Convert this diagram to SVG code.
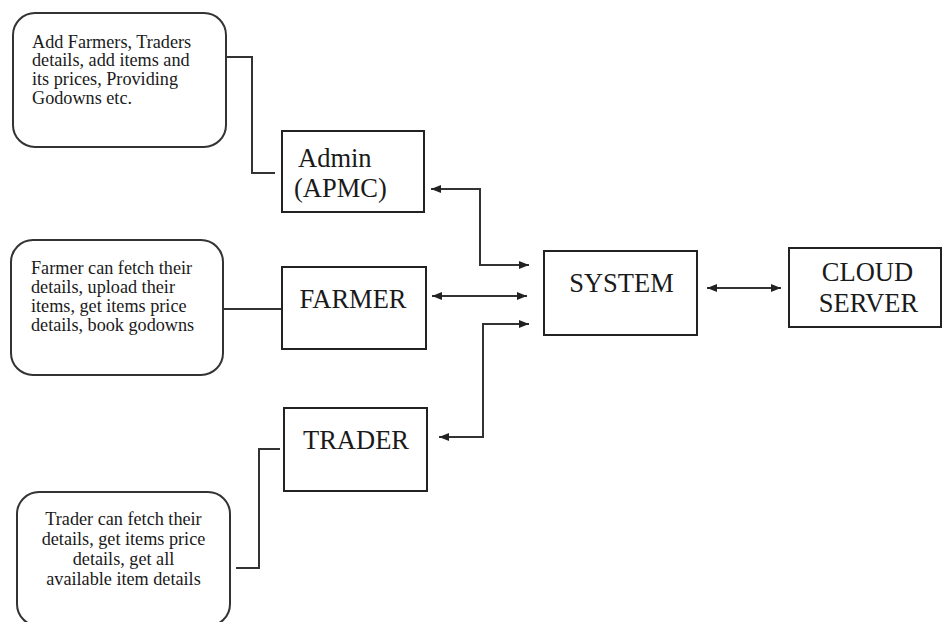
<svg xmlns="http://www.w3.org/2000/svg" width="944" height="622" viewBox="0 0 944 622">
<style>
  .box { fill: #fff; stroke: #222; stroke-width: 2; }
  .note { fill: #fff; stroke: #333; stroke-width: 2; }
  .lbl { font-family: "Liberation Serif", "Times New Roman", serif; font-size: 26.5px; fill: #1a1a1a; }
  .txt { font-family: "Liberation Serif", "Times New Roman", serif; font-size: 18.2px; fill: #1a1a1a; }
  .conn { fill: none; stroke: #333; stroke-width: 2; }
  .arr { marker-start: url(#ah); marker-end: url(#ah); }
</style>
<defs>
  <marker id="ah" markerUnits="userSpaceOnUse" markerWidth="11" markerHeight="9" refX="10" refY="4" orient="auto-start-reverse">
    <path d="M0,0 L10,4 L0,8 Z" fill="#222"/>
  </marker>
</defs>
<rect width="944" height="622" fill="#fff"/>

<g id="connectors">
  <polyline class="conn" points="226,57 252,57 252,173 275,173"/>
  <line class="conn" x1="223" y1="309" x2="282" y2="309"/>
  <polyline class="conn" points="236,568 259,568 259,449 280,449"/>
  <polyline class="conn arr" points="431,189 480,189 480,265 529,265"/>
  <line class="conn arr" x1="432" y1="296" x2="527" y2="296"/>
  <polyline class="conn arr" points="439,437 483,437 483,324 529,324"/>
  <line class="conn arr" x1="707" y1="288" x2="781" y2="288"/>
</g>

<g id="admin-note">
  <rect class="note" x="13" y="13" width="213" height="134" rx="22" ry="22"/>
  <text class="txt" x="32" y="47.5">Add Farmers, Traders</text>
  <text class="txt" x="32" y="66.3">details, add items and</text>
  <text class="txt" x="32" y="85.1">its prices, Providing</text>
  <text class="txt" x="32" y="104">Godowns etc.</text>
</g>

<g id="farmer-note">
  <rect class="note" x="11" y="240" width="212" height="135" rx="22" ry="22"/>
  <text class="txt" x="31" y="274">Farmer can fetch their</text>
  <text class="txt" x="31" y="293">details, upload their</text>
  <text class="txt" x="31" y="312">items, get items price</text>
  <text class="txt" x="31" y="331">details, book godowns</text>
</g>

<g id="trader-note">
  <rect class="note" x="17" y="492" width="213" height="134" rx="22" ry="22"/>
  <text class="txt" x="123.5" y="524.5" text-anchor="middle">Trader can fetch their</text>
  <text class="txt" x="123.5" y="545" text-anchor="middle">details, get items price</text>
  <text class="txt" x="123.5" y="565" text-anchor="middle">details, get all</text>
  <text class="txt" x="123.5" y="585" text-anchor="middle">available item details</text>
</g>

<g id="admin">
  <rect class="box" x="282" y="131" width="142" height="81"/>
  <text class="lbl" x="298" y="167">Admin</text>
  <text class="lbl" x="294" y="197">(APMC)</text>
</g>

<g id="farmer">
  <rect class="box" x="282" y="267" width="144" height="82"/>
  <text class="lbl" x="353" y="308" text-anchor="middle">FARMER</text>
</g>

<g id="trader">
  <rect class="box" x="284" y="408" width="143" height="83"/>
  <text class="lbl" x="356" y="449" text-anchor="middle">TRADER</text>
</g>

<g id="system">
  <rect class="box" x="544" y="251" width="153" height="84"/>
  <text class="lbl" x="621.5" y="292" text-anchor="middle">SYSTEM</text>
</g>

<g id="cloud-server">
  <rect class="box" x="789" y="248" width="152" height="79"/>
  <text class="lbl" x="867.5" y="281" text-anchor="middle">CLOUD</text>
  <text class="lbl" x="868.5" y="312" text-anchor="middle">SERVER</text>
</g>
</svg>
